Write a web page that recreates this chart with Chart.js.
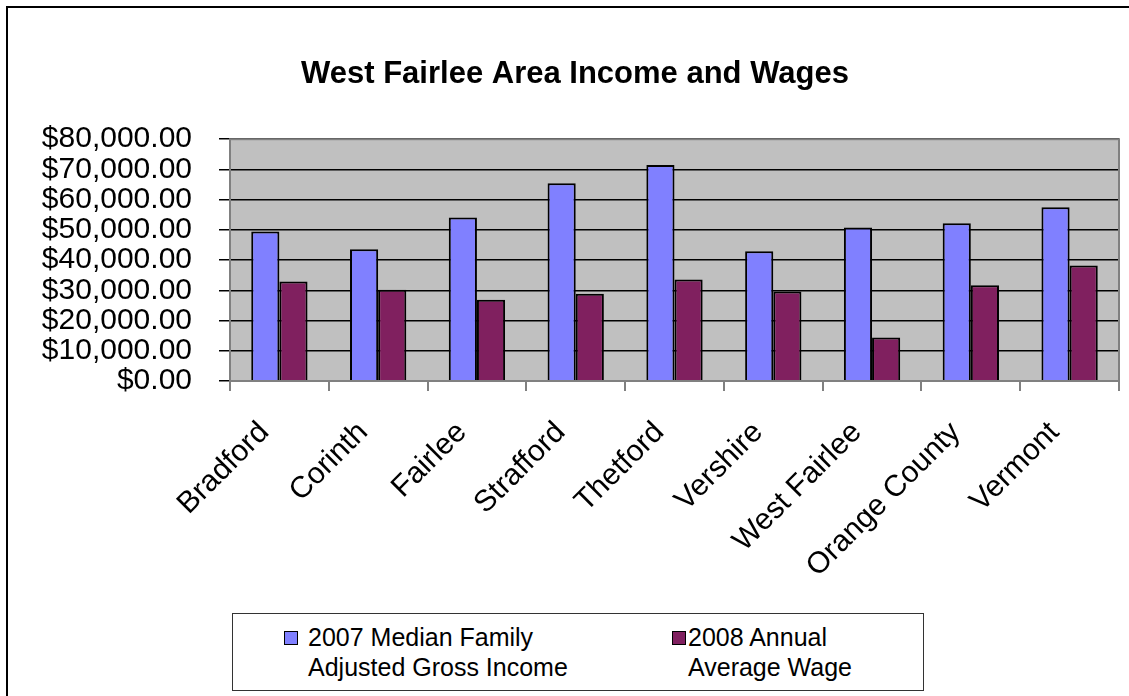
<!DOCTYPE html>
<html>
<head>
<meta charset="utf-8">
<script src="https://cdn.jsdelivr.net/npm/chart.js@4/dist/chart.umd.min.js"></script>
<style>
  html, body { margin: 0; padding: 0; background: #fff; overflow: hidden; }
  #wrap { position: relative; width: 1129px; height: 696px; }
  #frame { position: absolute; left: 6px; top: 6px; width: 1200px; height: 800px; border: 2px solid #000; }
  #legend {
    position: absolute; left: 232px; top: 613px; width: 690px; height: 76px;
    border: 1px solid #333; background: #fff;
    font-family: "Liberation Sans", Arial, sans-serif; font-size: 25px; color: #000;
  }
  .item { position: absolute; top: 8px; line-height: 30px; }
  .swatch { position: absolute; top: 9px; width: 12px; height: 12px; border: 1px solid #000; }
  .txt { position: absolute; white-space: nowrap; }
</style>
</head>
<body>
<div id="wrap">
  <div id="frame"></div>
  <canvas id="chart" width="1129" height="696"></canvas>
  <div id="legend"></div>
</div>
<script>
const categories = ['Bradford', 'Corinth', 'Fairlee', 'Strafford', 'Thetford', 'Vershire', 'West Fairlee', 'Orange County', 'Vermont'];
const medianIncome = [49500, 43600, 54100, 65400, 71500, 42900, 50800, 52200, 57500];
const averageWage = [32900, 30200, 26900, 28900, 33600, 29600, 14400, 31700, 38200];
const seriesNames = [['2007 Median Family', 'Adjusted Gross Income'], ['2008 Annual', 'Average Wage']];
const yMax = 80000;
const yStep = 10000;

const fontFamily = '"Liberation Sans", Arial, sans-serif';

// grey plot area behind the bars
const plotBackground = {
    id: 'plotBackground',
    beforeDraw(chart) {
        const { ctx, chartArea: a } = chart;
        ctx.save();
        ctx.fillStyle = '#c0c0c0';
        ctx.fillRect(a.left, a.top, a.right - a.left, a.bottom - a.top);
        ctx.restore();
    },
    afterDatasetsDraw(chart) {
        const { ctx, chartArea: a } = chart;
        ctx.save();
        ctx.strokeStyle = '#808080';
        ctx.lineWidth = 2;
        ctx.strokeRect(a.left, a.top, a.right - a.left, a.bottom - a.top);
        ctx.restore();
    }
};

const ctx = document.getElementById('chart').getContext('2d');
const chart = new Chart(ctx, {
    type: 'bar',
    data: {
        labels: categories,
        datasets: [{
            label: seriesNames[0].join(' '),
            data: medianIncome,
            backgroundColor: '#8080ff',
            borderColor: '#000',
            borderWidth: 2,
            categoryPercentage: 0.57,
            barPercentage: 1.0
        }, {
            label: seriesNames[1].join(' '),
            data: averageWage,
            backgroundColor: '#80205f',
            borderColor: '#000',
            borderWidth: 2,
            categoryPercentage: 0.57,
            barPercentage: 1.0
        }]
    },
    options: {
        responsive: false,
        animation: false,
        layout: { padding: { left: 31, right: 10, top: 0, bottom: 0 } },
        plugins: {
            legend: { display: false },
            tooltip: { enabled: false },
            title: {
                display: true,
                text: 'West Fairlee Area Income and Wages',
                color: '#000',
                font: { family: fontFamily, size: 31, weight: 'bold', lineHeight: 1.2 },
                padding: { top: 56, bottom: 46 }
            }
        },
        scales: {
            x: {
                grid: { drawOnChartArea: false, drawTicks: true, tickLength: 10, color: '#808080', lineWidth: 2 },
                border: { display: false },
                ticks: {
                    color: '#000',
                    font: { family: fontFamily, size: 30 },
                    minRotation: 45,
                    maxRotation: 45,
                    autoSkip: false,
                    padding: 24,
                    labelOffset: -15
                },
                afterFit(scale) { scale.height = 315; }
            },
            y: {
                min: 0,
                max: yMax,
                grid: { color: '#000', lineWidth: 1.5, drawTicks: true, tickLength: 11 },
                border: { display: false },
                ticks: {
                    stepSize: yStep,
                    autoSkip: false,
                    color: '#000',
                    padding: 27,
                    font: { family: fontFamily, size: 30 },
                    callback: v => '$' + Number(v).toLocaleString('en-US', { minimumFractionDigits: 2, maximumFractionDigits: 2 })
                },
                afterFit(scale) { scale.width = 199; }
            }
        }
    },
    plugins: [plotBackground]
});

// two-line legend below the chart, built from the datasets
const legend = document.getElementById('legend');
const itemLeft = [51, 439];
const textLeft = [24, 16];
chart.data.datasets.forEach((ds, i) => {
    const item = document.createElement('div');
    item.className = 'item';
    item.style.left = itemLeft[i] + 'px';
    const sw = document.createElement('div');
    sw.className = 'swatch';
    sw.style.background = ds.backgroundColor;
    item.appendChild(sw);
    const txt = document.createElement('div');
    txt.className = 'txt';
    txt.style.left = textLeft[i] + 'px';
    txt.innerHTML = seriesNames[i].join('<br>');
    item.appendChild(txt);
    legend.appendChild(item);
});
</script>
</body>
</html>
